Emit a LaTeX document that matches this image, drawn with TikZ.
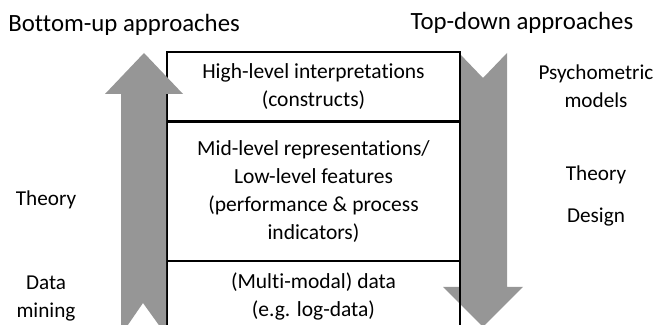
\documentclass[tikz,border=0pt]{standalone}
\usepackage{fontspec}
\setmainfont[Ligatures=NoCommon]{Carlito}
\usetikzlibrary{positioning}
\definecolor{arrowgray}{RGB}{150,150,150}

\begin{document}
\begin{tikzpicture}[x=0.5pt, y=-0.5pt]
    % Styles
    \tikzstyle{level} = [rectangle, draw=black, line width=0.6pt, minimum width=146.5pt, align=center, inner sep=0pt, font=\fontsize{10.75}{14}\selectfont]
    \tikzstyle{side} = [align=center, inner sep=0pt, font=\fontsize{10.6}{14}\selectfont]
    \tikzstyle{heading} = [inner sep=0pt, font=\fontsize{12.4}{14}\selectfont]
    \tikzstyle{block} = [fill=arrowgray, draw=none]

    \clip (0,0) rectangle (655,325);

    % Down arrow (behind the boxes)
    \fill[block] (459,53) -- (483,78) -- (507,53) -- (507,287) -- (523,287) -- (483,327) -- (443,287) -- (459,287) -- cycle;

    % Nodes
    \node[level, minimum height=34.5pt] (high) at (313.5,86.5) {High-level interpretations\\(constructs)};
    \node[level, minimum height=69pt, below=0pt of high] (mid) {Mid-level representations/\\Low-level features\\(performance \& process\\indicators)};
    \node[level, minimum height=35pt, below=0pt of mid] (data) {(Multi-modal) data\\(e.g. log-data)};

    % Up arrow (over the boxes)
    \fill[block] (121,335) -- (143,303) -- (166,335) -- (166,94) -- (183,94) -- (144,53) -- (105,94) -- (121,94) -- cycle;

    % Labels
    \node[heading, anchor=west] (bottomup) at (8,25) {Bottom-up approaches};
    \node[heading] (topdown) at (522,23) {Top-down approaches};
    \node[side] (theoryL) at (46,200) {Theory};
    \node[side] (mining) at (46,298.5) {Data\\mining};
    \node[side] (psycho) at (596,86) {Psychometric\\models};
    \node[side] (theoryR) at (596,175) {Theory};
    \node[side] (design) at (596,217) {Design};
\end{tikzpicture}
\end{document}
